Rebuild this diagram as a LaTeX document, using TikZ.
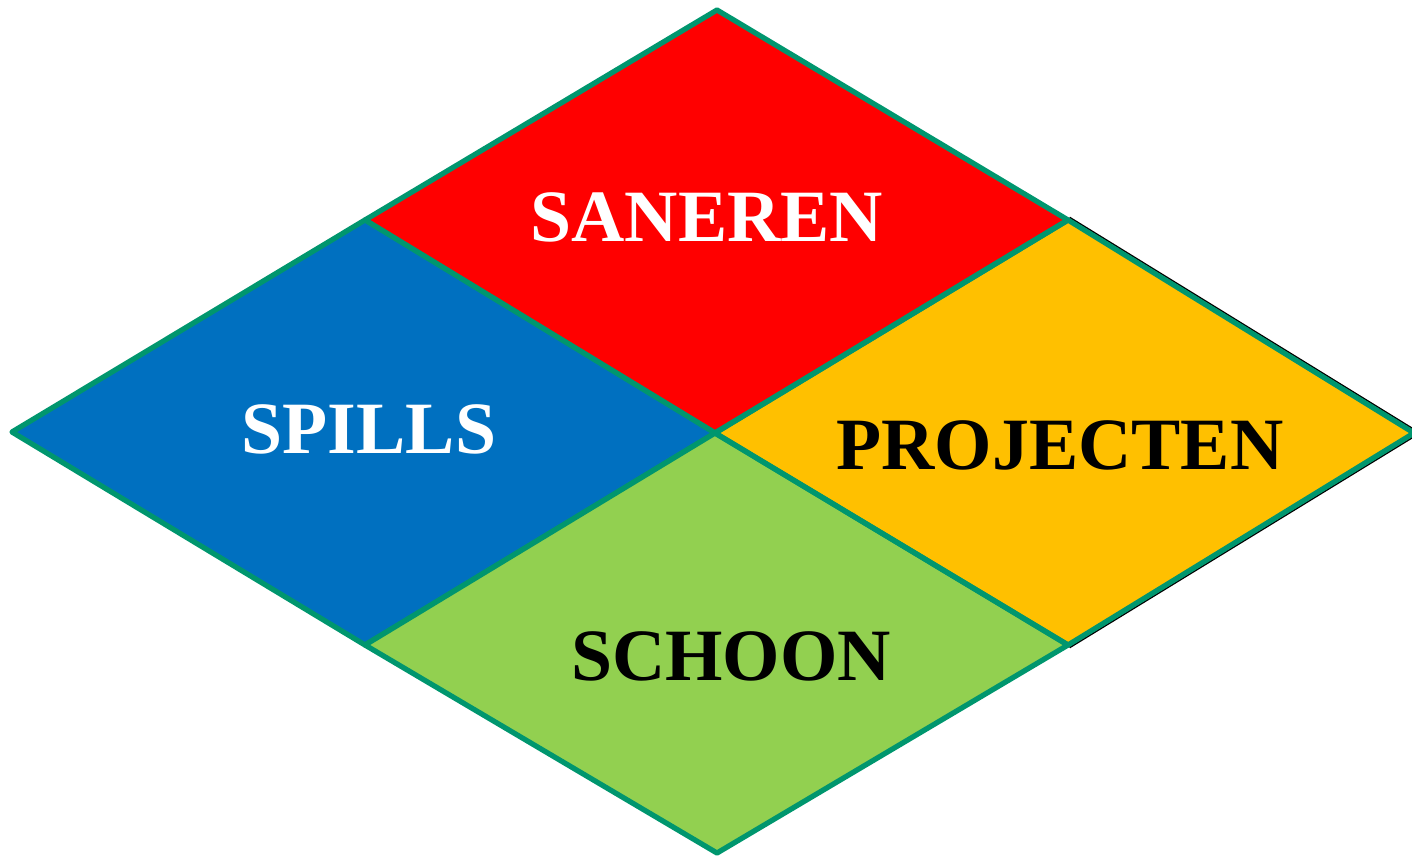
\documentclass[tikz,border=0pt]{standalone}
\usepackage{fontspec}
\setmainfont{Liberation Serif}
\usetikzlibrary{positioning,calc}
\definecolor{rood}{RGB}{255,0,0}
\definecolor{blauw}{RGB}{0,112,192}
\definecolor{oranje}{RGB}{255,192,0}
\definecolor{groen}{RGB}{146,208,80}
\definecolor{rand}{RGB}{0,150,110}

\begin{document}
\begin{tikzpicture}[x=0.02cm,y=-0.02cm,
        vlak/.style={draw=rand,line width=3pt,line join=round},
        label/.style={font=\fontsize{42}{48}\selectfont\bfseries,inner sep=0pt}]
            \useasboundingbox (0,0) rectangle (1412,856);
            \coordinate (top) at (717,10);
            \coordinate (lo) at (365,220);
            \coordinate (ro) at (1068,220);
            \coordinate (links) at (12,432);
            \coordinate (mid) at (715,433);
            \coordinate (rechts) at (1414,433);
            \coordinate (lb) at (365,645);
            \coordinate (rb) at (1068,645);
            \coordinate (bodem) at (717,853);
            % schaduw rechts
            \draw[line width=0.9pt] ([shift={(1.6,-2.6)}]ro) -- ([shift={(1.6,-2.6)}]rechts);
            \draw[line width=0.9pt] ([shift={(1.6,2.6)}]rechts) -- ([shift={(1.6,2.6)}]rb);
            \fill[oranje] (ro) -- (rechts) -- (rb) -- (mid) -- cycle;
            \draw[vlak,fill=rood] (top) -- (ro) -- (mid) -- (lo) -- cycle;
            \draw[vlak,fill=blauw] (lo) -- (mid) -- (lb) -- (links) -- cycle;
            \draw[vlak,fill=groen] (mid) -- (rb) -- (bodem) -- (lb) -- cycle;
            \draw[vlak] (ro) -- (rechts) -- (rb) -- (mid) -- cycle;
            \node[label,text=white] (saneren) at (707,217) {SANEREN};
            \node[label,text=white] (spills) at (369,429) {SPILLS};
            \node[label] (projecten) at (1060,445) {PROJECTEN};
            \node[label] (schoon) at (731,656) {SCHOON};
        \end{tikzpicture}
\end{document}
